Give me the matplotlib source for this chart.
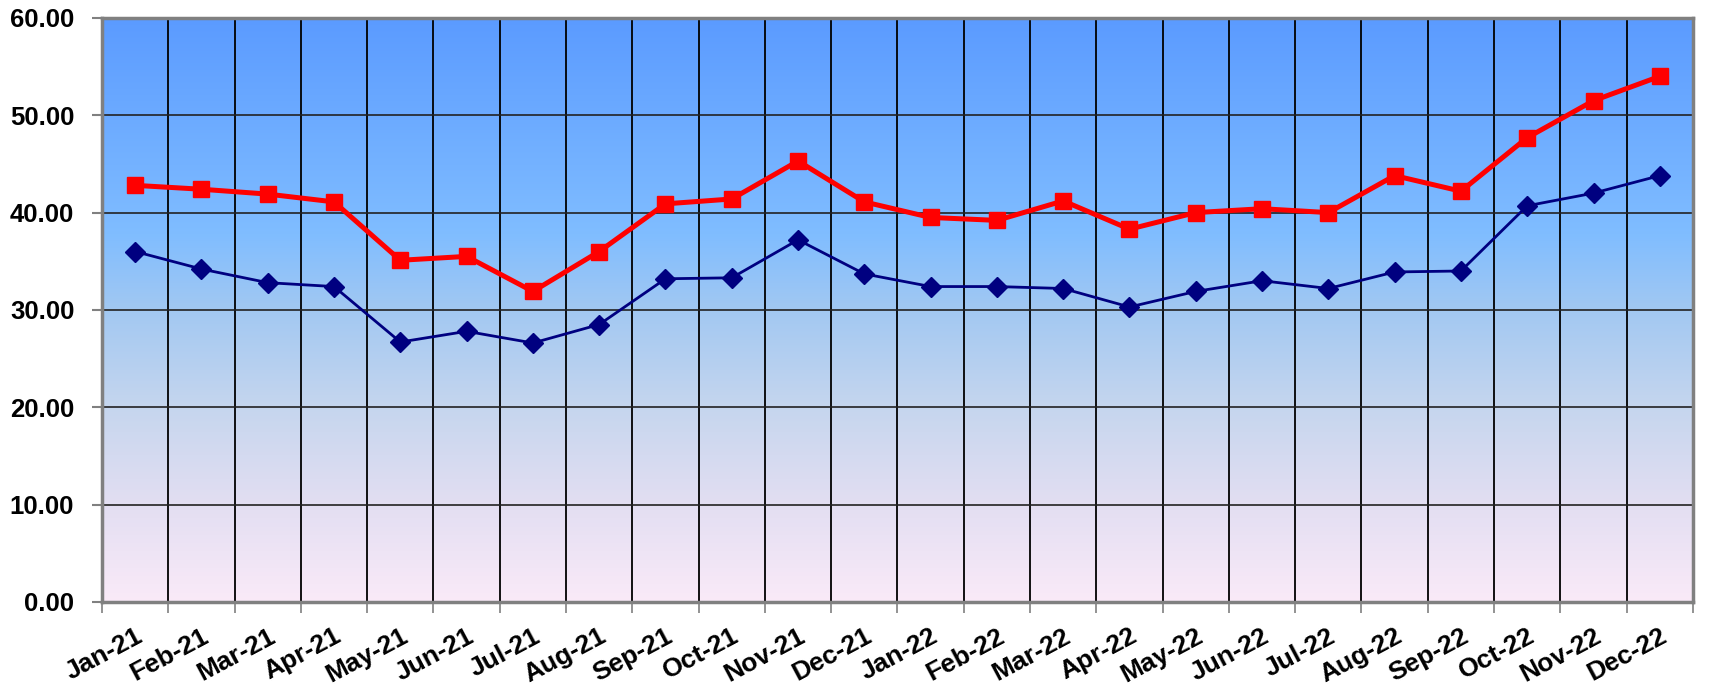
import numpy as np
import matplotlib
matplotlib.use("Agg")
import matplotlib.pyplot as plt
from matplotlib.colors import LinearSegmentedColormap

# --- datos ---
months = ["Jan-21", "Feb-21", "Mar-21", "Apr-21", "May-21", "Jun-21",
          "Jul-21", "Aug-21", "Sep-21", "Oct-21", "Nov-21", "Dec-21",
          "Jan-22", "Feb-22", "Mar-22", "Apr-22", "May-22", "Jun-22",
          "Jul-22", "Aug-22", "Sep-22", "Oct-22", "Nov-22", "Dec-22"]

red_values = [42.8, 42.4, 41.9, 41.1, 35.1, 35.5, 31.9, 36.0, 40.9, 41.4, 45.3, 41.1,
              39.5, 39.2, 41.2, 38.3, 40.0, 40.4, 40.0, 43.8, 42.2, 47.7, 51.5, 54.0]

blue_values = [36.0, 34.2, 32.8, 32.4, 26.7, 27.8, 26.6, 28.5, 33.2, 33.3, 37.2, 33.7,
               32.4, 32.4, 32.2, 30.3, 31.9, 33.0, 32.2, 33.9, 34.0, 40.7, 42.0, 43.8]

y_ticks = [0, 10, 20, 30, 40, 50, 60]

plt.rcParams['font.family'] = ['Liberation Sans', 'DejaVu Sans']

fig = plt.figure(figsize=(17.09, 6.91), dpi=100)
ax = fig.add_axes([0.0597, 0.129, 0.9309, 0.845])

x = np.arange(len(months))
n = len(months)

# fondo degradado (rosa abajo -> azul arriba)
grad_cmap = LinearSegmentedColormap.from_list("bg", [
    (0.00, "#FAEAF8"),
    (0.17, "#E2DEF2"),
    (0.33, "#C6D6EE"),
    (0.50, "#A2C8F2"),
    (0.63, "#80BDFF"),
    (1.00, "#5B9BFF"),
])
grad = np.linspace(0, 1, 256).reshape(-1, 1)
ax.imshow(grad, extent=[-0.5, n - 0.5, 0, 60], origin="lower", aspect="auto",
          cmap=grad_cmap, zorder=0, interpolation="bicubic")

# lineas
ax.plot(x, blue_values, color="#000080", lw=2.0, marker="D", ms=10, zorder=4)
ax.plot(x, red_values, color="#FF0000", lw=3.6, marker="s", ms=12, zorder=5)

ax.set_xlim(-0.5, n - 0.5)
ax.set_ylim(0, 60)

# ejes y rejilla
ax.set_yticks(y_ticks)
ax.set_yticklabels([f"{v:.2f}" for v in y_ticks], fontsize=18.5, fontweight="bold")
ax.set_xticks(x)
ax.set_xticklabels(months, fontsize=19, fontweight="bold", rotation=28,
                   ha="right", va="top", rotation_mode="anchor")
ax.set_xticks(np.arange(-0.5, n, 1.0), minor=True)
ax.tick_params(axis="x", which="major", length=0, pad=16)
ax.tick_params(axis="x", which="minor", length=8, width=1.2, color="#808080")
ax.tick_params(axis="y", length=7, width=1.5, color="#808080", pad=13)

ax.grid(True, axis="y", which="major", color="#222222", lw=1.2, zorder=1)
ax.grid(True, axis="x", which="minor", color="black", lw=1.3, zorder=1)
ax.set_axisbelow(False)
for line in ax.get_xgridlines() + ax.get_ygridlines():
    line.set_zorder(2)

for side in ["left", "bottom", "top", "right"]:
    ax.spines[side].set_color("#808080")
    ax.spines[side].set_linewidth(2.5)
    ax.spines[side].set_zorder(6)

fig.savefig("out.png", dpi=100)
